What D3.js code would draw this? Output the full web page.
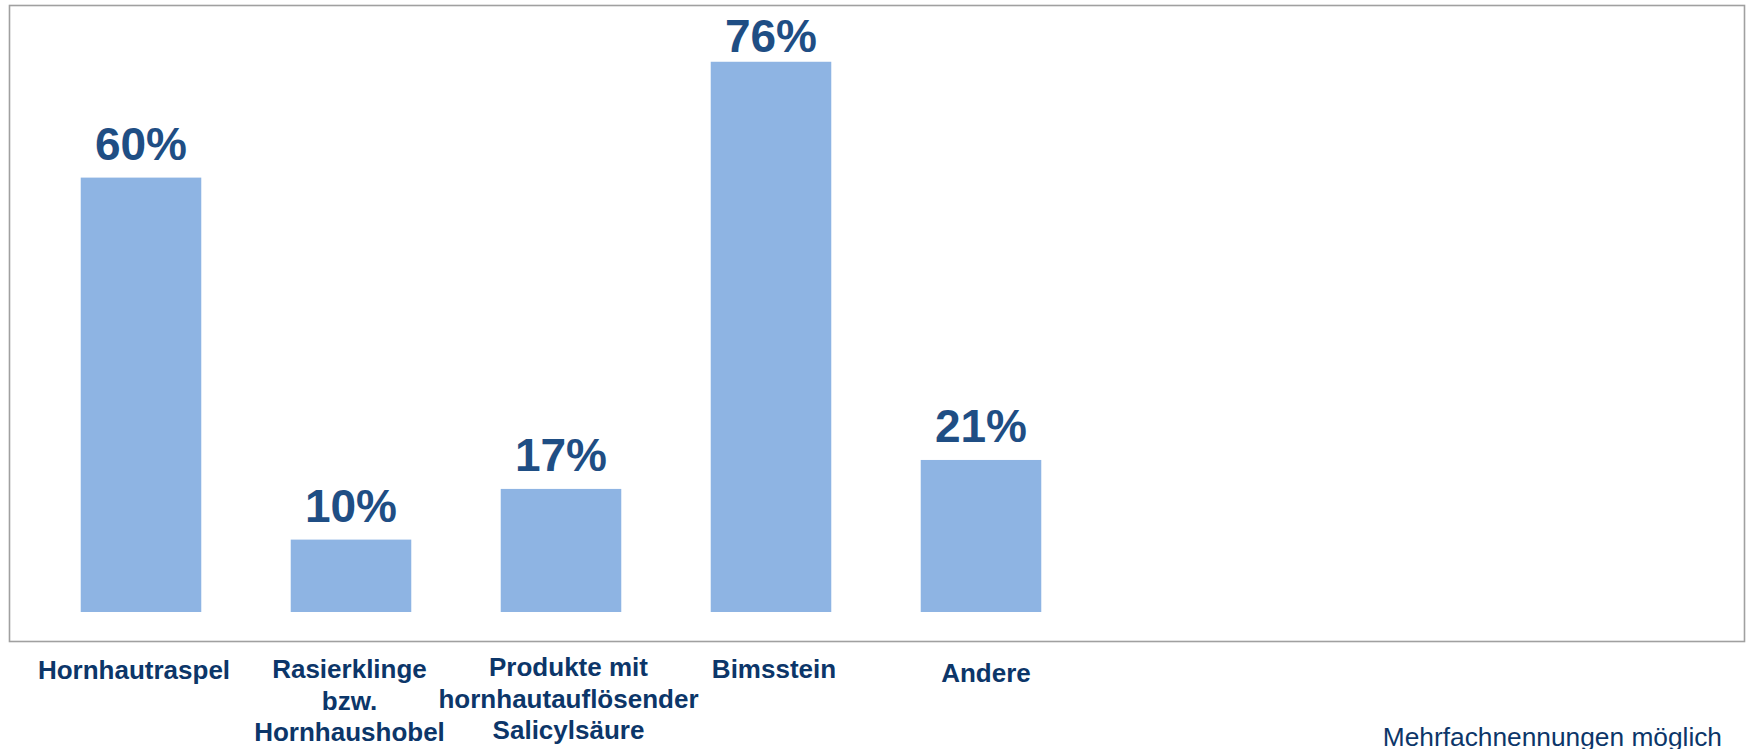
<!DOCTYPE html>
<html>
<head>
<meta charset="utf-8">
<script src="https://cdn.jsdelivr.net/npm/d3@7"></script>
<style>
  html, body { margin: 0; padding: 0; background: #ffffff; }
  svg { display: block; }
</style>
</head>
<body>
<div id="chart"></div>
<script>
// ---- data ----
const categories = [
  "Hornhautraspel",
  "Rasierklinge\nbzw.\nHornhaushobel",
  "Produkte mit\nhornhautauflösender\nSalicylsäure",
  "Bimsstein",
  "Andere"
];
const values = [60, 10, 17, 76, 21];
const valueLabels = ["60%", "10%", "17%", "76%", "21%"];
const footnote = "Mehrfachnennungen möglich";

// ---- layout ----
const W = 1748, H = 749;
const font = "'Liberation Sans', Arial, Helvetica, sans-serif";
// small per-label nudges of the category text (layout only)
const labelNudgeX = [-7, -1.5, 7.5, 3, 5];
const labelNudgeY = [0, -1, -3, -1, 3];

const svg = d3.select("#chart").append("svg")
  .attr("width", W).attr("height", H);

// plot frame
svg.append("rect")
  .attr("x", 9.5).attr("y", 5.5)
  .attr("width", 1735).attr("height", 636)
  .attr("fill", "#ffffff")
  .attr("stroke", "#a0a0a0")
  .attr("stroke-width", 1.6);

const x = d3.scaleBand()
  .domain(categories)
  .range([36, 1086])
  .paddingInner(0.426)
  .paddingOuter(0.213);

const y = d3.scaleLinear()
  .domain([0, 80])
  .range([612, 612 - 80 * 7.24]);

const data = categories.map((c, i) => ({ cat: c, v: values[i], lab: valueLabels[i], i }));

// bars
svg.append("g").selectAll("rect")
  .data(data).join("rect")
  .attr("x", d => x(d.cat))
  .attr("y", d => y(d.v))
  .attr("width", x.bandwidth())
  .attr("height", d => y(0) - y(d.v))
  .attr("fill", "#8eb4e3");

// value labels (clamped inside plot area)
svg.append("g").selectAll("text")
  .data(data).join("text")
  .attr("x", d => x(d.cat) + x.bandwidth() / 2)
  .attr("y", d => Math.max(y(d.v) - 17.5, 51.7))
  .attr("text-anchor", "middle")
  .attr("font-family", font)
  .attr("font-weight", "bold")
  .attr("font-size", 46)
  .attr("fill", "#1f4e84")
  .text(d => d.lab);

// category labels
const catG = svg.append("g");
data.forEach(d => {
  const cx = x(d.cat) + x.bandwidth() / 2 + labelNudgeX[d.i];
  const t = catG.append("text")
    .attr("x", cx)
    .attr("y", 679 + labelNudgeY[d.i])
    .attr("text-anchor", "middle")
    .attr("font-family", font)
    .attr("font-weight", "bold")
    .attr("font-size", 26)
    .attr("fill", "#0c3669");
  d.cat.split("\n").forEach((line, j) => {
    t.append("tspan")
      .attr("x", cx)
      .attr("dy", j === 0 ? 0 : 31.5)
      .text(line);
  });
});

// footnote
svg.append("text")
  .attr("x", 1722)
  .attr("y", 746)
  .attr("text-anchor", "end")
  .attr("font-family", font)
  .attr("font-size", 26.3)
  .attr("fill", "#0c3669")
  .text(footnote);
</script>
</body>
</html>
